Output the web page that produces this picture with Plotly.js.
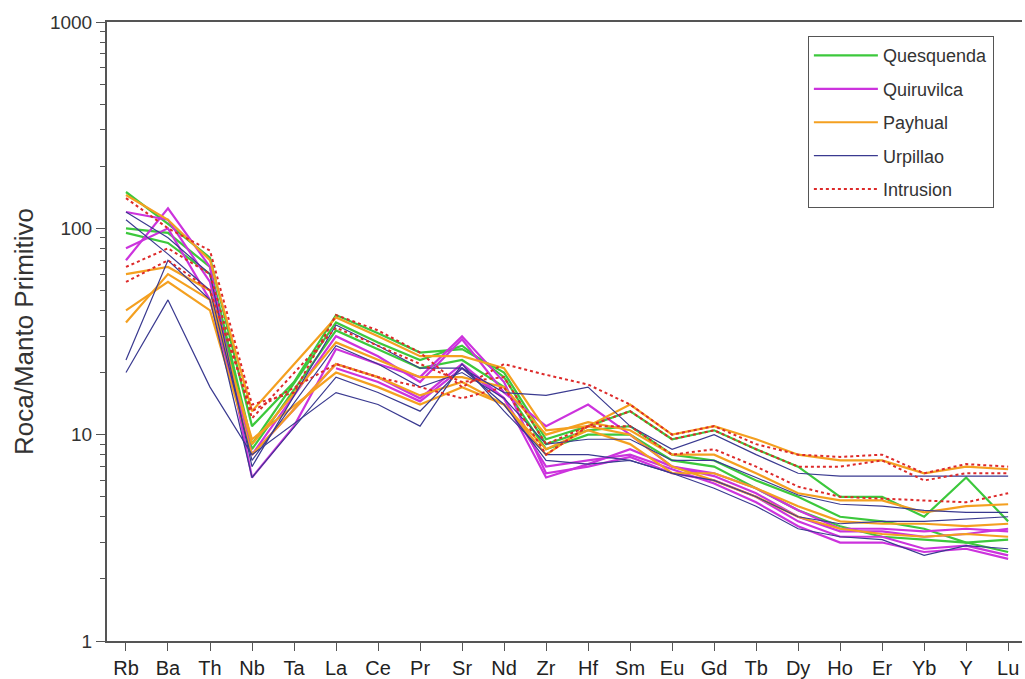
<!DOCTYPE html>
<html>
<head>
<meta charset="utf-8">
<script src="https://cdn.plot.ly/plotly-3.0.1.min.js"></script>
<style>html,body{margin:0;padding:0;background:#fff;}#chart{width:1025px;height:679px;}</style>
</head>
<body>
<div id="chart"></div>
<script>
const categories = ["Rb","Ba","Th","Nb","Ta","La","Ce","Pr","Sr","Nd","Zr","Hf","Sm","Eu","Gd","Tb","Dy","Ho","Er","Yb","Y","Lu"];

const quesquenda = [
  [150,105,72,11,18,38,31,25,26,20,9.5,11,13,9.5,10.5,8.5,7,5,5,4,6.2,3.8],
  [100,95,65,9,null,35,28,23,27,19,9,10.5,11,8,7.5,6,5,4,3.8,3.5,3,3.1],
  [95,85,60,8.5,null,32,26,21,23,17,8.5,10,10,7.5,7,5.5,4.3,3.6,3.2,3.1,3,2.7]
];
const quiruvilca = [
  [70,125,65,6.2,11,26,22,19,30,18,6.5,7,7.8,6.5,6,5,3.8,3.2,3.2,2.8,2.9,2.6],
  [120,110,55,8,null,30,24,18,29,16,11,14,10,7,6.5,5.5,4.3,3.5,3.5,3.4,3.5,3.4],
  [80,100,45,8,null,22,19,15,22,15,7,7.5,8,6.8,5.8,4.7,3.6,3,3,2.7,2.8,2.5],
  [null,null,null,null,null,21,18,14.5,21,15,6.2,7.2,8.5,7,6.3,5.2,4,3.4,3.4,3.2,3.3,3.5]
];
const payhual = [
  [145,110,70,13,null,37,30,24,24,21,10.5,11,14,10,11,9.5,8,7.5,7.5,6.5,7,6.8],
  [60,65,50,9,null,28,23,19,19,17,10,11.5,10.5,8,8,6.5,5.2,4.8,4.8,4.2,4.5,4.6],
  [40,55,40,8,null,22,19,15.5,18,14,8.5,10.5,9,6.5,6.5,5.5,4.5,3.8,3.7,3.7,3.6,3.7],
  [35,60,45,9.5,null,20,17,14,17,14,8,11,10,7,6,5,4,3.5,3.3,3.2,3.3,3.2]
];
const urpillao = [
  [120,90,60,7,null,34,27,21,21,16,15.5,17,11,8.5,10,8,6.5,6.3,6.3,6.3,6.3,6.3],
  [20,45,17,8,null,16,14,11,22,13,8,8,7.5,6.5,6,5,4,3.7,3.8,3.8,3.9,4],
  [23,70,45,6.2,null,19,16,13,21,14,7.5,7.2,7.5,6.5,5.5,4.5,3.5,3.2,3.1,2.6,2.9,2.8],
  [110,75,50,7.5,null,27,22,17,20,15,9,9.5,9.5,7.5,7.5,6.2,5.1,4.6,4.5,4.3,4.2,4.2]
];
const intrusion = [
  [140,100,78,14,16,38,32,25,17,22,19.5,17.5,14,10,11,9,8,7.8,8,6.5,7.2,7],
  [55,70,50,13,null,22,19,17,15,17,8,11,13,9.5,10.5,8.5,7,7,7.5,6,6.5,6.5],
  [65,80,60,12,null,33,27,22,18,19,9,11,11,8,8.5,7,5.6,5,4.9,4.8,4.7,5.2]
];

const groups = [
  {name:"Quesquenda", data:quesquenda, color:"#3cc83c", width:2.2, dash:"solid"},
  {name:"Quiruvilca", data:quiruvilca, color:"#cc33dd", width:2.2, dash:"solid"},
  {name:"Payhual", data:payhual, color:"#f4a020", width:2.2, dash:"solid"},
  {name:"Urpillao", data:urpillao, color:"#3a3a90", width:1.2, dash:"solid"},
  {name:"Intrusion", data:intrusion, color:"#dd2a2a", width:2, dash:"dot"}
];

const traces = [];
groups.forEach(g => {
  g.data.forEach((vals, i) => {
    traces.push({
      type:"scatter", mode:"lines",
      x: categories.map((c, k) => k), y: vals,
      name: g.name, legendgroup: g.name, showlegend: i === 0,
      connectgaps: true,
      line: {color: g.color, width: g.width, dash: g.dash},
      hoverinfo: "skip"
    });
  });
});

const minorVals = [];
[1,10,100].forEach(d => { for (let m = 2; m <= 9; m++) minorVals.push(m*d); });

const layout = {
  width:1025, height:679,
  margin:{l:107, r:3, t:22, b:38},
  paper_bgcolor:"#fff", plot_bgcolor:"#fff",
  font:{family:"Arial, Liberation Sans, sans-serif", color:"#333"},
  showlegend:true,
  legend:{
    x:0.766, y:0.977, xanchor:"left", yanchor:"top",
    bgcolor:"#fff", bordercolor:"#555", borderwidth:1,
    font:{size:18, color:"#333"}, itemwidth:64, tracegroupgap:7
  },
  xaxis:{
    range:[-0.452, 21.33], showgrid:false, zeroline:false,
    showline:true, linecolor:"#555", linewidth:2, mirror:true,
    ticks:"outside", ticklen:8, tickcolor:"#555",
    tickmode:"array", tickvals:categories.map((c,k)=>k), ticktext:categories,
    tickfont:{size:20, color:"#222"}
  },
  yaxis:{
    type:"log", range:[0,3], showgrid:false, zeroline:false,
    showline:true, linecolor:"#555", linewidth:2,
    ticks:"outside", ticklen:9, tickcolor:"#555",
    tickmode:"array", tickvals:[1,10,100,1000], ticktext:["1","10","100","1000"],
    tickfont:{size:19, color:"#333"},
    minor:{ticks:"outside", ticklen:5, tickcolor:"#555", tickvals:minorVals, showgrid:false},
    title:{text:"Roca/Manto Primitivo", font:{size:26, color:"#333"}, standoff:9}
  }
};

Plotly.newPlot("chart", traces, layout, {displayModeBar:false, staticPlot:true});
</script>
</body>
</html>
